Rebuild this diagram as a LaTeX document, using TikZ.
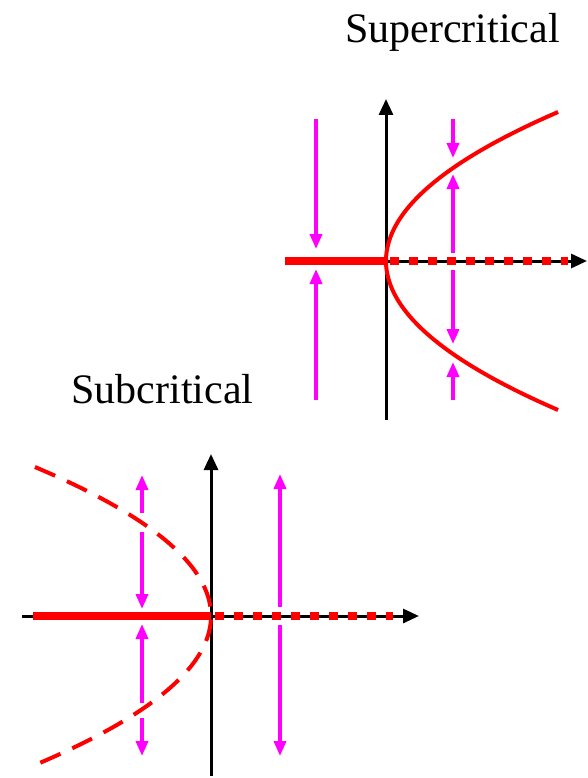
\documentclass[tikz,border=0pt]{standalone}
\usepackage{fontspec}
\setmainfont{Liberation Serif}
\usetikzlibrary{arrows.meta}
\definecolor{flowMagenta}{HTML}{FF00FF}
\definecolor{branchRed}{HTML}{FF0000}

\begin{document}
\begin{tikzpicture}[x=1pt,y=-1pt,font=\fontsize{42}{50}\selectfont,
    axisline/.style={draw=black,line width=3pt,-{Triangle[width=14pt,length=16pt]}},
    flowarrow/.style={draw=flowMagenta,line width=3.5pt,-{Triangle[width=12pt,length=15pt]}},
    stablebranch/.style={draw=branchRed,line width=8.5pt},
    unstableaxis/.style={draw=branchRed,line width=8pt,dash pattern=on 9pt off 10pt,dash phase=-4pt},
    curvebranch/.style={draw=branchRed,line width=4pt},
    dashbranch/.style={curvebranch,dash pattern=on 22pt off 13pt}]
  \useasboundingbox (0,0) rectangle (587,778);

  % supercritical
  \node[anchor=base] (supLabel) at (452.5,43) {Supercritical};
  \coordinate (supO) at (386,261);
  \draw[axisline] (285,261) -- (587,261);
  \draw[axisline] (386,420) -- (386,99);
  \draw[stablebranch] (285,261) -- (supO);
  \draw[unstableaxis] (supO) -- (568,261);
  \draw[curvebranch,domain=-1.49:1.49,samples=60,smooth]
    plot ({386+77.5*(\x)*(\x)},{261+100*(\x)});
  \draw[flowarrow] (316,119) -- (316,249);
  \draw[flowarrow] (316,400) -- (316,269);
  \draw[flowarrow] (453,119) -- (453,158);
  \draw[flowarrow] (453,253) -- (453,174);
  \draw[flowarrow] (453,270) -- (453,344);
  \draw[flowarrow] (453,400) -- (453,362);

  % subcritical
  \node[anchor=base] (subLabel) at (162.5,403) {Subcritical};
  \coordinate (subO) at (211,616);
  \draw[axisline] (22,616) -- (419,616);
  \draw[axisline] (211,776) -- (211,454);
  \draw[stablebranch] (33,616) -- (subO);
  \draw[unstableaxis] (subO) -- (393,616);
  \draw[dashbranch,domain=-1.49:1.49,samples=60,smooth]
    plot ({211-79.3*(\x)*(\x)},{616+100*(\x)});
  \draw[flowarrow] (142,513) -- (142,475);
  \draw[flowarrow] (142,532) -- (142,609);
  \draw[flowarrow] (142,703) -- (142,624);
  \draw[flowarrow] (142,718) -- (142,756);
  \draw[flowarrow] (280,607) -- (280,474);
  \draw[flowarrow] (280,625) -- (280,756);
\end{tikzpicture}
\end{document}
